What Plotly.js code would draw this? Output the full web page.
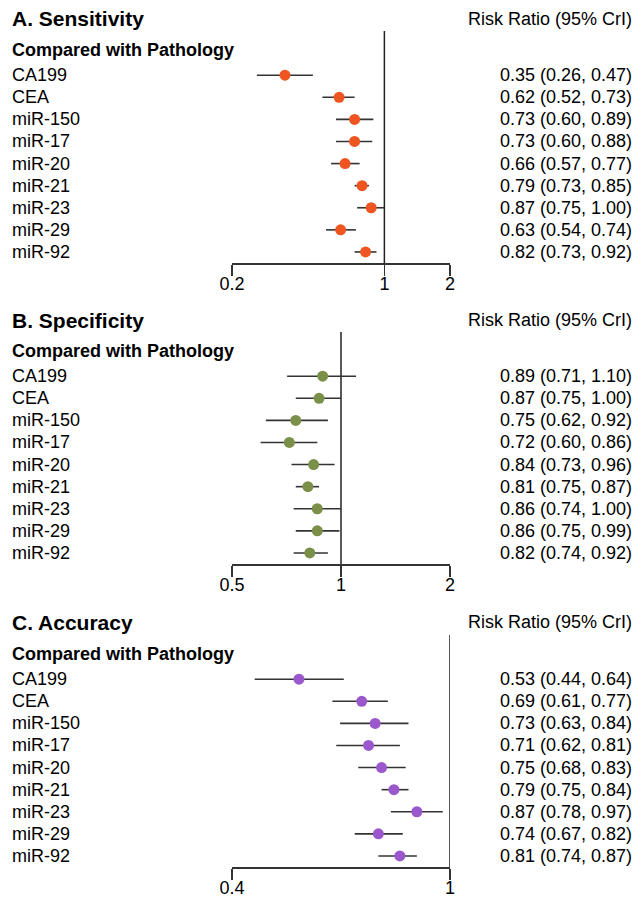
<!DOCTYPE html>
<html>
<head>
<meta charset="utf-8">
<script src="https://cdn.plot.ly/plotly-3.0.1.min.js"></script>
<style>html,body{margin:0;padding:0;background:#fff;}#chart{width:637px;height:897px;}</style>
</head>
<body>
<div id="chart"></div>
<script>
const categories = ['CA199','CEA','miR-150','miR-17','miR-20','miR-21','miR-23','miR-29','miR-92'];

const panelTitles = ['A. Sensitivity','B. Specificity','C. Accuracy'];
const subTitle = 'Compared with Pathology';
const rightHeader = 'Risk Ratio (95% CrI)';

const sensEst = [0.35,0.62,0.73,0.73,0.66,0.79,0.87,0.63,0.82];
const sensLo  = [0.26,0.52,0.60,0.60,0.57,0.73,0.75,0.54,0.73];
const sensHi  = [0.47,0.73,0.89,0.88,0.77,0.85,1.00,0.74,0.92];

const specEst = [0.89,0.87,0.75,0.72,0.84,0.81,0.86,0.86,0.82];
const specLo  = [0.71,0.75,0.62,0.60,0.73,0.75,0.74,0.75,0.74];
const specHi  = [1.10,1.00,0.92,0.86,0.96,0.87,1.00,0.99,0.92];

const accEst = [0.53,0.69,0.73,0.71,0.75,0.79,0.87,0.74,0.81];
const accLo  = [0.44,0.61,0.63,0.62,0.68,0.75,0.78,0.67,0.74];
const accHi  = [0.64,0.77,0.84,0.81,0.83,0.84,0.97,0.82,0.87];

const tickValsA = [0.2,1,2];
const tickValsB = [0.5,1,2];
const tickValsC = [0.4,1];
const axisRangeA = [0.2,2];
const axisRangeB = [0.5,2];
const axisRangeC = [0.4,1];
const refValue = 1;

const colors = ['#EE5520','#7A9049','#9A58CC'];
const FONT = 'Liberation Sans, Arial, Helvetica, sans-serif';
const W = 637, H = 897;

const panels = [
  {est: sensEst, lo: sensLo, hi: sensHi, ticks: tickValsA, range: axisRangeA, top: 31, bottom: 263, titleY: 19, subY: 50},
  {est: specEst, lo: specLo, hi: specHi, ticks: tickValsB, range: axisRangeB, top: 332, bottom: 564, titleY: 320, subY: 351},
  {est: accEst,  lo: accLo,  hi: accHi,  ticks: tickValsC, range: axisRangeC, top: 635, bottom: 867, titleY: 622, subY: 654}
];

const rowIdx = categories.map((c, i) => i);
const yTop = -2, yBottom = categories.length - 0.5;

const traces = [];
const annotations = [];
const layout = {
  width: W, height: H,
  margin: {l: 0, r: 0, t: 0, b: 0},
  paper_bgcolor: '#fff', plot_bgcolor: 'rgba(0,0,0,0)',
  showlegend: false,
  font: {family: FONT, size: 18, color: '#000'},
  annotations: annotations
};

panels.forEach((p, k) => {
  const sfx = k === 0 ? '' : String(k + 1);
  const xa = 'x' + sfx, ya = 'y' + sfx;
  traces.push({
    x: [refValue, refValue], y: [yTop, yBottom],
    xaxis: xa, yaxis: ya, mode: 'lines',
    line: {color: '#222', width: 1.5}, hoverinfo: 'skip'
  });
  traces.push({
    x: p.est, y: rowIdx, xaxis: xa, yaxis: ya,
    mode: 'markers', type: 'scatter',
    marker: {size: 11, color: colors[k], line: {width: 0}},
    error_x: {
      type: 'data', symmetric: false,
      array: p.hi.map((h, i) => h - p.est[i]),
      arrayminus: p.lo.map((l, i) => p.est[i] - l),
      color: '#333', thickness: 1.6, width: 0
    }
  });
  layout['xaxis' + sfx] = {
    type: 'log',
    range: [Math.log10(p.range[0]), Math.log10(p.range[1])],
    domain: [232 / W, 450 / W],
    anchor: ya,
    showgrid: false, zeroline: false,
    showline: true, linecolor: '#333', linewidth: 1.6,
    ticks: 'outside', ticklen: 11, tickwidth: 1.6, tickcolor: '#333',
    tickvals: p.ticks, ticktext: p.ticks.map(String),
    ticklabelstandoff: -7,
    tickfont: {family: FONT, size: 18, color: '#000'},
    fixedrange: true
  };
  layout['yaxis' + sfx] = {
    range: [yBottom, yTop],
    domain: [1 - p.bottom / H, 1 - p.top / H],
    anchor: xa,
    visible: false, showgrid: false, zeroline: false,
    fixedrange: true
  };
  annotations.push({
    xref: 'paper', yref: 'paper', x: 10 / W, y: 1 - p.titleY / H, xanchor: 'left', yanchor: 'middle',
    text: '<b>' + panelTitles[k] + '</b>', showarrow: false,
    font: {family: FONT, size: 21, color: '#000'}
  });
  annotations.push({
    xref: 'paper', yref: 'paper', x: 10 / W, y: 1 - p.subY / H, xanchor: 'left', yanchor: 'middle',
    text: '<b>' + subTitle + '</b>', showarrow: false,
    font: {family: FONT, size: 18, color: '#000'}
  });
  annotations.push({
    xref: 'paper', yref: 'paper', x: 634 / W, y: 1 - p.titleY / H, xanchor: 'right', yanchor: 'middle',
    text: rightHeader, showarrow: false,
    font: {family: FONT, size: 18, color: '#000'}
  });
  categories.forEach((c, i) => {
    annotations.push({
      xref: 'paper', yref: ya, x: 10 / W, y: i, xanchor: 'left', yanchor: 'middle',
      text: c, showarrow: false, font: {family: FONT, size: 18, color: '#000'}
    });
    annotations.push({
      xref: 'paper', yref: ya, x: 634 / W, y: i, xanchor: 'right', yanchor: 'middle',
      text: p.est[i].toFixed(2) + ' (' + p.lo[i].toFixed(2) + ', ' + p.hi[i].toFixed(2) + ')',
      showarrow: false, font: {family: FONT, size: 18, color: '#000'}
    });
  });
});

Plotly.newPlot('chart', traces, layout, {displayModeBar: false, staticPlot: true});
</script>
</body>
</html>
